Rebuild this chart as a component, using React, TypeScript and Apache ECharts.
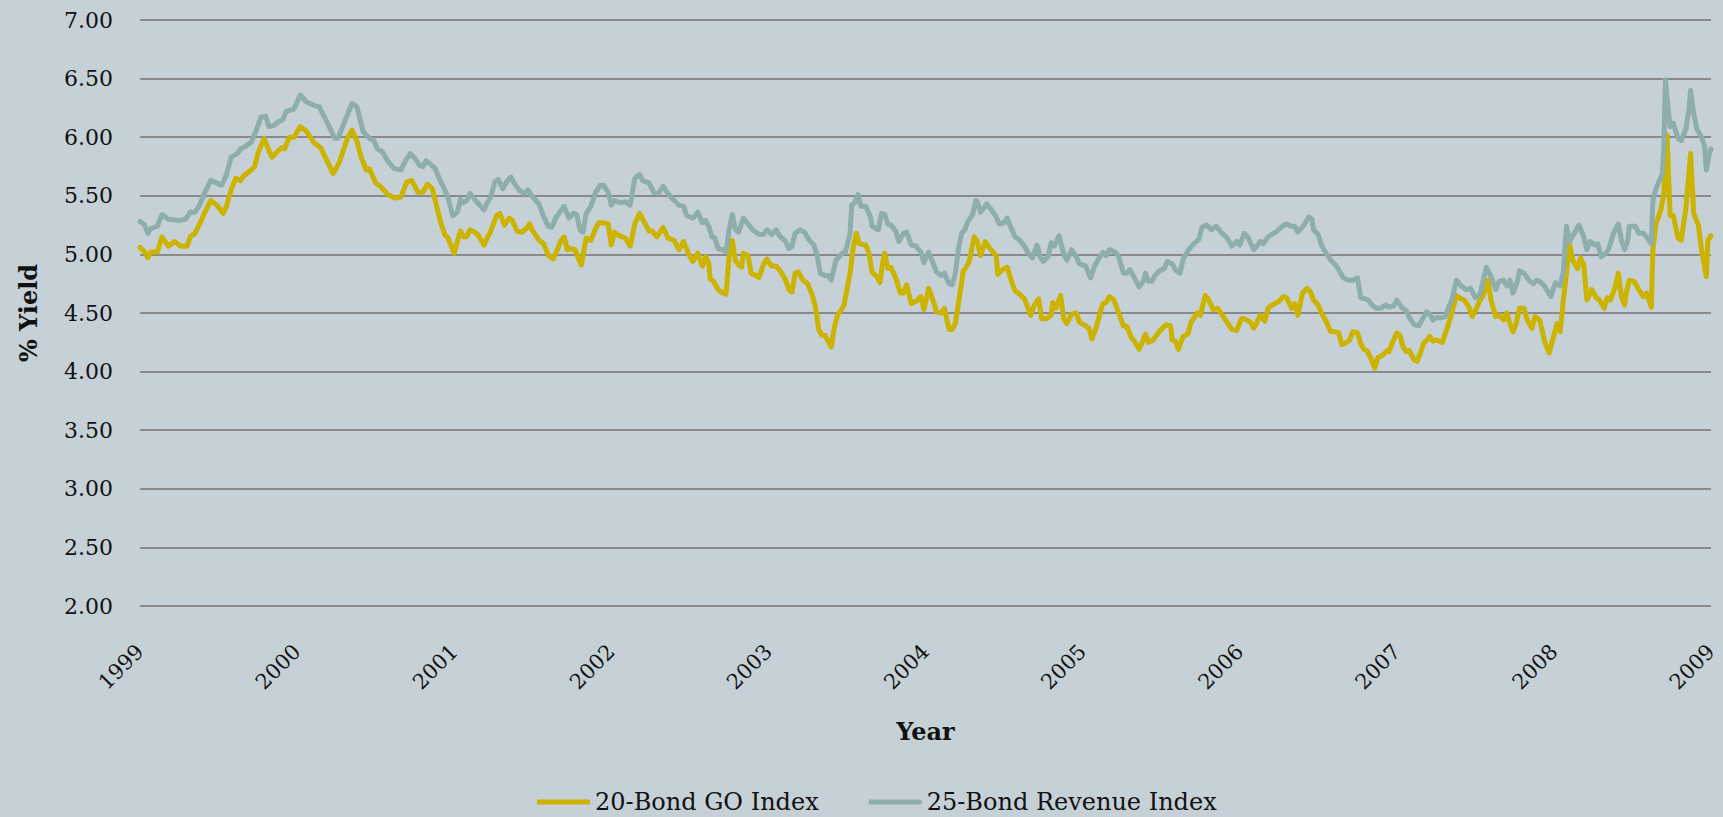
import React, { useEffect, useRef } from "react";
import * as echarts from "echarts";

const goYears = [
  1999.00, 1999.03, 1999.05, 1999.07, 1999.11, 1999.14, 1999.18, 1999.22, 1999.26, 1999.30, 1999.32, 1999.35, 1999.38, 1999.41, 1999.45, 1999.49, 1999.53, 1999.55, 1999.58, 1999.61, 1999.64, 1999.66, 1999.69, 1999.73, 1999.75, 1999.79, 1999.81, 1999.84, 1999.87, 1999.90, 1999.92, 1999.95, 1999.98,
  2000.02, 2000.06, 2000.11, 2000.15, 2000.19, 2000.23, 2000.27, 2000.32, 2000.35, 2000.38, 2000.41, 2000.44, 2000.46, 2000.50, 2000.53, 2000.58, 2000.62, 2000.66, 2000.70, 2000.73, 2000.77, 2000.80, 2000.83, 2000.86, 2000.88, 2000.91, 2000.94, 2000.96,
  2001.00, 2001.02, 2001.04, 2001.06, 2001.08, 2001.10, 2001.13, 2001.15, 2001.19, 2001.21, 2001.23, 2001.27, 2001.29, 2001.32, 2001.35, 2001.37, 2001.40, 2001.43, 2001.46, 2001.48, 2001.50, 2001.54, 2001.57, 2001.60, 2001.63, 2001.65, 2001.68, 2001.70, 2001.72, 2001.74, 2001.77, 2001.79, 2001.81, 2001.84, 2001.87, 2001.90, 2001.92, 2001.95, 2001.98,
  2002.00, 2002.02, 2002.05, 2002.09, 2002.12, 2002.15, 2002.18, 2002.20, 2002.24, 2002.26, 2002.29, 2002.33, 2002.36, 2002.40, 2002.43, 2002.46, 2002.49, 2002.52, 2002.55, 2002.58, 2002.60, 2002.62, 2002.63, 2002.65, 2002.68, 2002.70, 2002.73, 2002.75, 2002.77, 2002.79, 2002.81, 2002.83, 2002.84, 2002.87, 2002.89, 2002.92, 2002.94, 2002.97, 2002.99,
  2003.02, 2003.05, 2003.08, 2003.11, 2003.13, 2003.15, 2003.17, 2003.19, 2003.22, 2003.25, 2003.28, 2003.30, 2003.32, 2003.34, 2003.36, 2003.38, 2003.40, 2003.42, 2003.44, 2003.48, 2003.50, 2003.52, 2003.54, 2003.56, 2003.58, 2003.62, 2003.64, 2003.66, 2003.69, 2003.71, 2003.73, 2003.74, 2003.76, 2003.78, 2003.81, 2003.84, 2003.86, 2003.88, 2003.91, 2003.94, 2003.97, 2003.99,
  2004.02, 2004.05, 2004.07, 2004.10, 2004.12, 2004.15, 2004.17, 2004.19, 2004.22, 2004.24, 2004.26, 2004.28, 2004.31, 2004.33, 2004.35, 2004.38, 2004.41, 2004.45, 2004.46, 2004.49, 2004.52, 2004.55, 2004.57, 2004.60, 2004.63, 2004.67, 2004.69, 2004.72, 2004.74, 2004.77, 2004.80, 2004.81, 2004.83, 2004.86, 2004.88, 2004.90, 2004.93, 2004.96, 2004.98,
  2005.02, 2005.04, 2005.06, 2005.09, 2005.11, 2005.13, 2005.15, 2005.17, 2005.20, 2005.23, 2005.26, 2005.28, 2005.31, 2005.33, 2005.36, 2005.38, 2005.40, 2005.42, 2005.45, 2005.47, 2005.50, 2005.53, 2005.56, 2005.57, 2005.59, 2005.61, 2005.64, 2005.67, 2005.69, 2005.73, 2005.75, 2005.78, 2005.80, 2005.83, 2005.86, 2005.88, 2005.92, 2005.95, 2005.98,
  2006.01, 2006.03, 2006.07, 2006.09, 2006.11, 2006.13, 2006.16, 2006.18, 2006.21, 2006.25, 2006.28, 2006.30, 2006.33, 2006.35, 2006.37, 2006.40, 2006.43, 2006.45, 2006.47, 2006.50, 2006.52, 2006.55, 2006.58, 2006.61, 2006.63, 2006.65, 2006.68, 2006.70, 2006.72, 2006.75, 2006.77, 2006.79, 2006.81, 2006.84, 2006.86, 2006.88, 2006.91, 2006.94, 2006.95, 2006.97,
  2007.00, 2007.02, 2007.04, 2007.06, 2007.08, 2007.11, 2007.13, 2007.15, 2007.17, 2007.20, 2007.21, 2007.23, 2007.25, 2007.29, 2007.31, 2007.33, 2007.35, 2007.38, 2007.41, 2007.43, 2007.46, 2007.48, 2007.50, 2007.53, 2007.55, 2007.58, 2007.60, 2007.63, 2007.65, 2007.68, 2007.70, 2007.72, 2007.74, 2007.76, 2007.78, 2007.81, 2007.83, 2007.86, 2007.88, 2007.91, 2007.94, 2007.97,
  2008.00, 2008.02, 2008.04, 2008.06, 2008.08, 2008.10, 2008.12, 2008.15, 2008.17, 2008.19, 2008.21, 2008.24, 2008.27, 2008.29, 2008.32, 2008.34, 2008.36, 2008.39, 2008.41, 2008.43, 2008.45, 2008.46, 2008.48, 2008.51, 2008.54, 2008.57, 2008.59, 2008.62, 2008.63, 2008.65, 2008.68, 2008.70, 2008.72, 2008.74, 2008.76, 2008.79, 2008.81, 2008.84, 2008.87, 2008.89, 2008.92, 2008.94, 2008.97, 2008.98, 2009.00,
];

const goYields = [
  5.06, 5.02, 4.97, 5.02, 5.02, 5.15, 5.07, 5.11, 5.07, 5.07, 5.15, 5.18, 5.26, 5.35, 5.46, 5.42, 5.35, 5.41, 5.55, 5.65, 5.63, 5.67, 5.70, 5.75, 5.86, 5.99, 5.92, 5.83, 5.87, 5.91, 5.90, 6.00, 6.00,
  6.09, 6.05, 5.95, 5.91, 5.80, 5.69, 5.79, 5.99, 6.06, 5.97, 5.82, 5.72, 5.73, 5.61, 5.58, 5.51, 5.48, 5.49, 5.62, 5.63, 5.53, 5.53, 5.60, 5.56, 5.46, 5.29, 5.17, 5.14,
  5.01, 5.11, 5.20, 5.15, 5.15, 5.21, 5.19, 5.17, 5.08, 5.14, 5.19, 5.33, 5.35, 5.25, 5.31, 5.29, 5.20, 5.19, 5.22, 5.26, 5.20, 5.12, 5.09, 4.99, 4.96, 5.02, 5.12, 5.15, 5.04, 5.05, 5.04, 4.97, 4.91, 5.14, 5.12, 5.22, 5.27, 5.27, 5.26,
  5.08, 5.19, 5.16, 5.14, 5.07, 5.26, 5.35, 5.30, 5.20, 5.20, 5.15, 5.23, 5.14, 5.12, 5.04, 5.11, 5.01, 4.94, 5.01, 4.90, 4.98, 4.93, 4.79, 4.77, 4.70, 4.68, 4.66, 4.98, 5.12, 4.95, 4.91, 4.89, 5.01, 4.99, 4.84, 4.82, 4.80, 4.92, 4.96,
  4.90, 4.90, 4.85, 4.78, 4.70, 4.68, 4.84, 4.85, 4.78, 4.75, 4.65, 4.55, 4.36, 4.31, 4.31, 4.26, 4.21, 4.38, 4.48, 4.56, 4.70, 4.84, 5.06, 5.18, 5.09, 5.08, 5.01, 4.85, 4.81, 4.76, 4.95, 5.01, 4.88, 4.89, 4.80, 4.67, 4.67, 4.74, 4.58, 4.60, 4.64, 4.53,
  4.71, 4.60, 4.51, 4.50, 4.54, 4.36, 4.36, 4.41, 4.67, 4.86, 4.89, 4.95, 5.15, 5.11, 4.99, 5.11, 5.05, 4.99, 4.83, 4.87, 4.89, 4.76, 4.69, 4.66, 4.62, 4.48, 4.56, 4.62, 4.45, 4.45, 4.48, 4.59, 4.54, 4.65, 4.45, 4.41, 4.49, 4.50, 4.42,
  4.39, 4.37, 4.28, 4.39, 4.50, 4.58, 4.59, 4.64, 4.61, 4.50, 4.39, 4.39, 4.29, 4.26, 4.19, 4.25, 4.32, 4.25, 4.27, 4.31, 4.36, 4.40, 4.39, 4.27, 4.26, 4.19, 4.30, 4.32, 4.42, 4.50, 4.48, 4.65, 4.62, 4.53, 4.54, 4.50, 4.42, 4.36, 4.35,
  4.45, 4.45, 4.42, 4.37, 4.42, 4.48, 4.43, 4.54, 4.57, 4.60, 4.64, 4.63, 4.54, 4.58, 4.48, 4.67, 4.71, 4.68, 4.61, 4.57, 4.50, 4.43, 4.34, 4.34, 4.33, 4.23, 4.25, 4.27, 4.34, 4.33, 4.24, 4.19, 4.18, 4.10, 4.03, 4.12, 4.14, 4.18, 4.17, 4.24,
  4.33, 4.31, 4.21, 4.17, 4.18, 4.10, 4.09, 4.16, 4.24, 4.28, 4.30, 4.26, 4.27, 4.25, 4.33, 4.41, 4.50, 4.65, 4.62, 4.61, 4.55, 4.47, 4.52, 4.61, 4.65, 4.78, 4.61, 4.47, 4.48, 4.44, 4.50, 4.41, 4.34, 4.41, 4.54, 4.54, 4.44, 4.37, 4.47, 4.44, 4.26, 4.16,
  4.31, 4.41, 4.34, 4.61, 4.84, 5.09, 4.95, 4.88, 4.97, 4.91, 4.61, 4.70, 4.63, 4.61, 4.54, 4.63, 4.61, 4.72, 4.84, 4.64, 4.57, 4.67, 4.78, 4.77, 4.70, 4.64, 4.67, 4.55, 5.04, 5.26, 5.38, 5.51, 6.02, 5.33, 5.33, 5.14, 5.12, 5.39, 5.86, 5.35, 5.25, 5.04, 4.81, 5.12, 5.16,
];

const revYears = [
  1999.00, 1999.03, 1999.05, 1999.07, 1999.11, 1999.14, 1999.18, 1999.25, 1999.29, 1999.32, 1999.35, 1999.38, 1999.41, 1999.45, 1999.49, 1999.52, 1999.55, 1999.58, 1999.62, 1999.64, 1999.67, 1999.71, 1999.74, 1999.77, 1999.80, 1999.82, 1999.85, 1999.88, 1999.91, 1999.93, 1999.98,
  2000.02, 2000.06, 2000.11, 2000.14, 2000.19, 2000.24, 2000.26, 2000.29, 2000.35, 2000.38, 2000.42, 2000.46, 2000.49, 2000.51, 2000.54, 2000.58, 2000.62, 2000.66, 2000.69, 2000.72, 2000.75, 2000.78, 2000.80, 2000.82, 2000.85, 2000.88, 2000.91, 2000.93, 2000.96, 2000.99,
  2001.02, 2001.04, 2001.06, 2001.08, 2001.10, 2001.13, 2001.15, 2001.19, 2001.21, 2001.23, 2001.26, 2001.28, 2001.31, 2001.33, 2001.36, 2001.39, 2001.42, 2001.45, 2001.47, 2001.50, 2001.54, 2001.57, 2001.60, 2001.62, 2001.65, 2001.70, 2001.73, 2001.76, 2001.78, 2001.80, 2001.82, 2001.84, 2001.87, 2001.90, 2001.93, 2001.95, 2001.98,
  2002.00, 2002.02, 2002.06, 2002.09, 2002.12, 2002.15, 2002.18, 2002.20, 2002.24, 2002.27, 2002.30, 2002.33, 2002.36, 2002.40, 2002.43, 2002.46, 2002.48, 2002.52, 2002.55, 2002.58, 2002.60, 2002.62, 2002.64, 2002.66, 2002.68, 2002.71, 2002.73, 2002.75, 2002.77, 2002.79, 2002.81, 2002.84, 2002.87, 2002.90, 2002.94, 2002.97, 2002.99,
  2003.02, 2003.05, 2003.07, 2003.11, 2003.13, 2003.15, 2003.17, 2003.20, 2003.23, 2003.26, 2003.29, 2003.31, 2003.33, 2003.36, 2003.38, 2003.40, 2003.43, 2003.47, 2003.49, 2003.52, 2003.53, 2003.55, 2003.57, 2003.59, 2003.62, 2003.65, 2003.66, 2003.70, 2003.72, 2003.74, 2003.76, 2003.78, 2003.81, 2003.83, 2003.86, 2003.88, 2003.91, 2003.94, 2003.97, 2003.99,
  2004.02, 2004.05, 2004.07, 2004.10, 2004.12, 2004.15, 2004.17, 2004.19, 2004.21, 2004.23, 2004.25, 2004.27, 2004.30, 2004.32, 2004.33, 2004.35, 2004.39, 2004.42, 2004.45, 2004.47, 2004.50, 2004.52, 2004.54, 2004.57, 2004.60, 2004.63, 2004.65, 2004.68, 2004.71, 2004.73, 2004.75, 2004.78, 2004.80, 2004.82, 2004.85, 2004.88, 2004.90, 2004.93, 2004.96, 2004.98,
  2005.02, 2005.05, 2005.08, 2005.11, 2005.13, 2005.15, 2005.17, 2005.21, 2005.23, 2005.26, 2005.28, 2005.30, 2005.33, 2005.36, 2005.39, 2005.40, 2005.42, 2005.44, 2005.46, 2005.49, 2005.52, 2005.54, 2005.57, 2005.59, 2005.62, 2005.64, 2005.67, 2005.70, 2005.74, 2005.76, 2005.79, 2005.82, 2005.85, 2005.88, 2005.92, 2005.95, 2005.98,
  2006.00, 2006.03, 2006.05, 2006.09, 2006.13, 2006.15, 2006.18, 2006.23, 2006.28, 2006.30, 2006.33, 2006.35, 2006.37, 2006.41, 2006.44, 2006.46, 2006.47, 2006.50, 2006.52, 2006.55, 2006.58, 2006.61, 2006.63, 2006.66, 2006.69, 2006.72, 2006.75, 2006.77, 2006.80, 2006.82, 2006.84, 2006.87, 2006.90, 2006.93, 2006.95, 2006.98,
  2007.00, 2007.03, 2007.06, 2007.08, 2007.11, 2007.14, 2007.16, 2007.19, 2007.21, 2007.23, 2007.25, 2007.29, 2007.31, 2007.33, 2007.35, 2007.38, 2007.41, 2007.44, 2007.47, 2007.50, 2007.53, 2007.55, 2007.57, 2007.60, 2007.63, 2007.65, 2007.68, 2007.70, 2007.72, 2007.74, 2007.77, 2007.78, 2007.81, 2007.84, 2007.87, 2007.89, 2007.91, 2007.94, 2007.98,
  2008.01, 2008.04, 2008.06, 2008.08, 2008.10, 2008.13, 2008.16, 2008.19, 2008.21, 2008.23, 2008.26, 2008.28, 2008.30, 2008.33, 2008.35, 2008.38, 2008.41, 2008.43, 2008.45, 2008.47, 2008.48, 2008.52, 2008.54, 2008.57, 2008.59, 2008.62, 2008.63, 2008.65, 2008.69, 2008.70, 2008.71, 2008.72, 2008.74, 2008.76, 2008.79, 2008.81, 2008.84, 2008.86, 2008.87, 2008.89, 2008.91, 2008.94, 2008.96, 2008.97, 2008.99, 2009.00,
];

const revYields = [
  5.28, 5.25, 5.18, 5.22, 5.24, 5.34, 5.30, 5.29, 5.30, 5.36, 5.36, 5.42, 5.52, 5.63, 5.61, 5.59, 5.68, 5.83, 5.86, 5.90, 5.92, 5.96, 6.06, 6.17, 6.18, 6.09, 6.10, 6.13, 6.15, 6.22, 6.24,
  6.36, 6.30, 6.27, 6.26, 6.13, 5.99, 5.99, 6.09, 6.29, 6.26, 6.05, 5.99, 5.97, 5.90, 5.88, 5.79, 5.73, 5.72, 5.80, 5.86, 5.82, 5.76, 5.75, 5.80, 5.77, 5.73, 5.63, 5.58, 5.49, 5.33,
  5.36, 5.47, 5.44, 5.46, 5.52, 5.47, 5.44, 5.38, 5.44, 5.48, 5.62, 5.64, 5.56, 5.61, 5.66, 5.59, 5.54, 5.52, 5.55, 5.49, 5.43, 5.32, 5.24, 5.23, 5.32, 5.41, 5.31, 5.35, 5.34, 5.21, 5.19, 5.35, 5.41, 5.53, 5.59, 5.59, 5.53,
  5.42, 5.46, 5.44, 5.45, 5.42, 5.65, 5.68, 5.63, 5.61, 5.53, 5.52, 5.58, 5.52, 5.46, 5.42, 5.41, 5.33, 5.31, 5.36, 5.27, 5.29, 5.24, 5.15, 5.14, 5.05, 5.04, 5.02, 5.21, 5.34, 5.21, 5.19, 5.31, 5.26, 5.21, 5.17, 5.17, 5.21,
  5.17, 5.21, 5.16, 5.11, 5.05, 5.07, 5.18, 5.21, 5.19, 5.12, 5.08, 4.99, 4.84, 4.82, 4.82, 4.78, 4.95, 5.01, 5.02, 5.18, 5.42, 5.44, 5.51, 5.41, 5.41, 5.32, 5.24, 5.21, 5.35, 5.34, 5.26, 5.25, 5.20, 5.11, 5.18, 5.19, 5.08, 5.07, 5.02, 4.93,
  5.02, 4.92, 4.85, 4.82, 4.84, 4.75, 4.74, 4.84, 5.05, 5.18, 5.21, 5.28, 5.34, 5.46, 5.45, 5.36, 5.43, 5.38, 5.32, 5.26, 5.27, 5.31, 5.24, 5.15, 5.12, 5.07, 5.02, 4.97, 5.08, 4.98, 4.94, 4.98, 5.10, 5.07, 5.16, 5.00, 4.95, 5.04, 4.98, 4.92,
  4.90, 4.80, 4.91, 4.98, 5.02, 4.99, 5.04, 5.02, 4.98, 4.84, 4.84, 4.87, 4.80, 4.72, 4.78, 4.84, 4.77, 4.77, 4.82, 4.86, 4.88, 4.94, 4.92, 4.87, 4.84, 4.96, 5.03, 5.08, 5.13, 5.23, 5.25, 5.21, 5.24, 5.19, 5.14, 5.07, 5.11,
  5.08, 5.18, 5.15, 5.04, 5.11, 5.09, 5.15, 5.19, 5.25, 5.26, 5.24, 5.24, 5.19, 5.25, 5.32, 5.30, 5.21, 5.17, 5.08, 5.01, 4.95, 4.91, 4.87, 4.80, 4.78, 4.78, 4.80, 4.63, 4.62, 4.61, 4.57, 4.54, 4.54, 4.57, 4.55, 4.56,
  4.61, 4.55, 4.52, 4.46, 4.40, 4.39, 4.44, 4.51, 4.49, 4.44, 4.46, 4.46, 4.47, 4.55, 4.61, 4.78, 4.73, 4.70, 4.71, 4.63, 4.66, 4.78, 4.89, 4.81, 4.70, 4.77, 4.78, 4.73, 4.78, 4.67, 4.78, 4.86, 4.84, 4.78, 4.75, 4.78, 4.77, 4.73, 4.64,
  4.76, 4.73, 4.85, 5.24, 5.11, 5.18, 5.25, 5.15, 5.04, 5.11, 5.08, 5.09, 4.98, 5.01, 5.05, 5.18, 5.26, 5.12, 5.04, 5.12, 5.24, 5.24, 5.18, 5.18, 5.15, 5.09, 5.46, 5.56, 5.69, 5.92, 6.49, 6.34, 6.09, 6.12, 5.99, 5.97, 6.07, 6.24, 6.40, 6.20, 6.07, 6.00, 5.92, 5.72, 5.86, 5.90,
];

const seriesNames = ["20-Bond GO Index", "25-Bond Revenue Index"];
const seriesColors = ["#ccb300", "#8eadad"];

export default function App() {
  const ref = useRef<HTMLDivElement>(null);

  useEffect(() => {
    if (!ref.current) return;
    const chart = echarts.init(ref.current, undefined, { renderer: "svg" });
    const goData = goYears.map((y, i) => [y, goYields[i]]);
    const revData = revYears.map((y, i) => [y, revYields[i]]);
    const font = "DejaVu Serif";
    chart.setOption({
      animation: false,
      backgroundColor: "#c6d1d7",
      textStyle: { fontFamily: font, color: "#111" },
      grid: { left: 140, right: 12, top: 20, bottom: 211, containLabel: false },
      legend: {
        data: seriesNames,
        left: 537,
        top: 790,
        padding: 0,
        icon: "roundRect",
        itemWidth: 53,
        itemHeight: 5,
        itemGap: 50,
        textStyle: { fontFamily: font, fontSize: 24, color: "#111" },
      },
      xAxis: {
        type: "value",
        min: 1999,
        max: 2009,
        interval: 1,
        axisLine: { show: false },
        axisTick: { show: false },
        splitLine: { show: false },
        axisLabel: {
          rotate: 45,
          margin: 42,
          fontSize: 21,
          fontFamily: font,
          color: "#111",
          formatter: (v: number) => String(Math.round(v)),
        },
        name: "Year",
        nameLocation: "middle",
        nameGap: 113,
        nameTextStyle: { fontFamily: font, fontSize: 24, fontWeight: "bold", color: "#111" },
      },
      yAxis: {
        type: "value",
        min: 2,
        max: 7,
        interval: 0.5,
        axisLine: { show: false },
        axisTick: { show: false },
        splitLine: { show: true, lineStyle: { color: "#8a8a8a", width: 2 } },
        axisLabel: {
          margin: 27,
          fontSize: 22,
          fontFamily: font,
          color: "#111",
          formatter: (v: number) => v.toFixed(2),
        },
        name: "% Yield",
        nameLocation: "middle",
        nameGap: 100,
        nameTextStyle: { fontFamily: font, fontSize: 24, fontWeight: "bold", color: "#111" },
      },
      series: [
        {
          name: seriesNames[0],
          type: "line",
          data: goData,
          showSymbol: false,
          lineStyle: { width: 5, color: seriesColors[0], cap: "round", join: "round" },
          itemStyle: { color: seriesColors[0] },
        },
        {
          name: seriesNames[1],
          type: "line",
          data: revData,
          showSymbol: false,
          lineStyle: { width: 5, color: seriesColors[1], cap: "round", join: "round" },
          itemStyle: { color: seriesColors[1] },
        },
      ],
    });
    return () => chart.dispose();
  }, []);

  return (
    <div
      ref={ref}
      style={{ position: "absolute", left: 0, top: 0, width: "1723px", height: "817px" }}
    />
  );
}
